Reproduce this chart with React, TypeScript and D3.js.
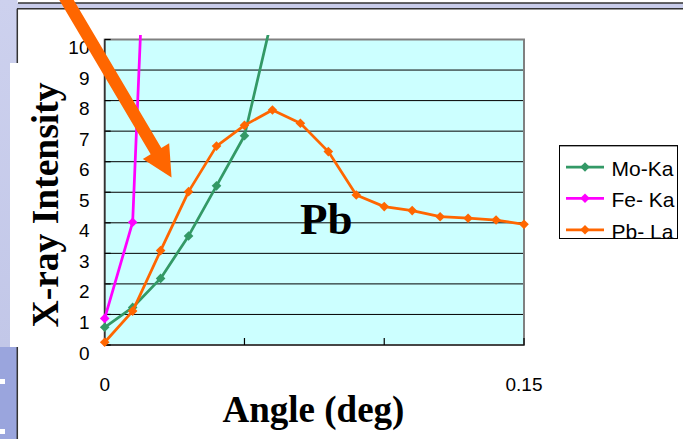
import React from "react";
import * as d3 from "d3";

// ---- data ----
const angles = [0, 0.01, 0.02, 0.03, 0.04, 0.05, 0.06, 0.07, 0.08, 0.09, 0.1, 0.11, 0.12, 0.13, 0.14, 0.15];
const moKa = [0.58, 1.23, 2.18, 3.57, 5.21, 6.85, 10.76];
const feKa = [0.87, 4.02, 26];
const pbLa = [0.09, 1.11, 3.09, 5.02, 6.51, 7.19, 7.69, 7.26, 6.33, 4.91, 4.53, 4.4, 4.2, 4.15, 4.09, 3.95];
const seriesNames = ["Mo-Ka", "Fe- Ka", "Pb- La"];
const seriesColors = ["#339966", "#FF00FF", "#FF6600"];
const yTicks = [0, 1, 2, 3, 4, 5, 6, 7, 8, 9, 10];
const xTicks = [0, 0.05, 0.1, 0.15];
const xTickLabels = ["0", "0.05", "0.1", "0.15"];

const W = 683;
const H = 439;
const plot = { left: 104.7, right: 524, top: 39.5, bottom: 345 };

const x = d3.scaleLinear().domain([0, 0.15]).range([plot.left, plot.right]);
const y = d3.scaleLinear().domain([0, 10]).range([plot.bottom, plot.top]);

const sans = "'Liberation Sans', Arial, sans-serif";
const serif = "'Liberation Serif', 'Times New Roman', serif";

function diamond(cx: number, cy: number, r: number) {
  return `M${cx},${cy - r}L${cx + r},${cy}L${cx},${cy + r}L${cx - r},${cy}Z`;
}

function arrowPath() {
  const S = [66.5, 0];
  const M = [156, 151.15];
  const dx = M[0] - S[0];
  const dy = M[1] - S[1];
  const len = Math.hypot(dx, dy);
  const u = [dx / len, dy / len];
  const n = [-u[1], u[0]];
  const sw = 6.2;
  const hw = 15.3;
  const hl = 30.5;
  const start = [S[0] - u[0] * 10, S[1] - u[1] * 10];
  const tip = [M[0] + u[0] * hl, M[1] + u[1] * hl];
  const pts = [
    [start[0] + n[0] * sw, start[1] + n[1] * sw],
    [M[0] + n[0] * sw, M[1] + n[1] * sw],
    [M[0] + n[0] * hw, M[1] + n[1] * hw],
    tip,
    [M[0] - n[0] * hw, M[1] - n[1] * hw],
    [M[0] - n[0] * sw, M[1] - n[1] * sw],
    [start[0] - n[0] * sw, start[1] - n[1] * sw],
  ];
  return "M" + pts.map((p) => p.join(",")).join("L") + "Z";
}

export default function App() {
  const line = d3
    .line<[number, number]>()
    .x((d) => x(d[0]))
    .y((d) => y(d[1]));
  const allSeries = [moKa, feKa, pbLa].map((vals) =>
    vals.map((v, i) => [angles[i], v] as [number, number])
  );

  const legendBox = { x: 559.5, y: 145.7, w: 118, h: 92.8 };
  const legendY = [167, 198.3, 229.8];

  return (
    <svg
      width={W}
      height={H}
      style={{ position: "absolute", left: 0, top: 0, display: "block" }}
    >
      <defs>
        <clipPath id="seriesClip">
          <rect x={0} y={35} width={W} height={H - 35} />
        </clipPath>
        <clipPath id="legendClip">
          <rect x={legendBox.x} y={legendBox.y} width={legendBox.w} height={legendBox.h} />
        </clipPath>
        <linearGradient id="strip" x1="0" y1="0" x2="0" y2="1">
          <stop offset="0" stopColor="#CDD1EE" />
          <stop offset="1" stopColor="#C2C7E8" />
        </linearGradient>
      </defs>
      <rect x={0} y={0} width={W} height={H} fill="#fff" />
      {/* slide background */}
      <rect x={0} y={0} width={17.5} height={347} fill="url(#strip)" />
      <rect x={0} y={347} width={17.5} height={H - 347} fill="#9AA5DD" />
      <rect x={0} y={379} width={5} height={5} fill="#fff" />
      <rect x={0} y={429} width={5} height={5} fill="#fff" />
      <rect x={17} y={3} width={W - 17} height={6} fill="#C8CCEA" />
      <line x1={18} x2={W} y1={3} y2={3} stroke="#333" strokeWidth={1.5} />
      <line x1={17} x2={W} y1={8.7} y2={8.7} stroke="#333" strokeWidth={1.5} />
      <line x1={17.3} x2={17.3} y1={8.7} y2={H} stroke="#333" strokeWidth={1.5} />
      {/* y label box */}
      <rect x={10} y={63} width={85} height={284} fill="#fff" />

      {/* plot area */}
      <rect
        x={plot.left}
        y={plot.top}
        width={plot.right - plot.left}
        height={plot.bottom - plot.top}
        fill="#CCFFFF"
      />
      {yTicks.slice(1, -1).map((t) => (
        <line key={t} x1={plot.left} x2={plot.right} y1={y(t)} y2={y(t)} stroke="#000" strokeWidth={1} />
      ))}
      <rect
        x={plot.left}
        y={plot.top}
        width={plot.right - plot.left}
        height={plot.bottom - plot.top}
        fill="none"
        stroke="#808080"
        strokeWidth={2}
      />
      <line x1={plot.left} x2={plot.left} y1={plot.top} y2={plot.bottom} stroke="#333" strokeWidth={1.5} />
      <line x1={plot.left} x2={plot.right} y1={plot.bottom} y2={plot.bottom} stroke="#333" strokeWidth={1.5} />
      {yTicks.map((t) => (
        <line key={t} x1={plot.left} x2={plot.left + 6} y1={y(t)} y2={y(t)} stroke="#000" strokeWidth={1.2} />
      ))}
      {xTicks.map((t) => (
        <line key={t} x1={x(t)} x2={x(t)} y1={plot.bottom} y2={plot.bottom - 7} stroke="#000" strokeWidth={1.2} />
      ))}

      {/* tick labels */}
      {yTicks.map((t) => (
        <text
          key={t}
          x={89.5}
          y={y(t) + 8}
          textAnchor="end"
          dominantBaseline="central"
          fontFamily={sans}
          fontSize={19}
          fill="#000"
        >
          {t}
        </text>
      ))}
      {xTicks.map((t, i) => (
        <text
          key={t}
          x={x(t)}
          y={384.5}
          textAnchor="middle"
          dominantBaseline="central"
          fontFamily={sans}
          fontSize={19}
          fill="#000"
        >
          {xTickLabels[i]}
        </text>
      ))}

      {/* series */}
      <g clipPath="url(#seriesClip)">
        {allSeries.map((pts, si) => (
          <g key={si}>
            <path d={line(pts) || ""} fill="none" stroke={seriesColors[si]} strokeWidth={2.75} strokeLinejoin="round" />
            {pts.map((p, i) => (
              <path key={i} d={diamond(x(p[0]), y(p[1]), 4.8)} fill={seriesColors[si]} />
            ))}
          </g>
        ))}
      </g>

      {/* Pb label */}
      <text x={300} y={234} fontFamily={serif} fontWeight="bold" fontSize={45} fill="#000">
        Pb
      </text>

      {/* legend */}
      <rect
        x={legendBox.x}
        y={legendBox.y}
        width={legendBox.w}
        height={legendBox.h}
        fill="#fff"
        stroke="#000"
        strokeWidth={1}
      />
      <g clipPath="url(#legendClip)">
        {seriesNames.map((name, i) => (
          <g key={name}>
            <line x1={566} x2={604} y1={legendY[i]} y2={legendY[i]} stroke={seriesColors[i]} strokeWidth={2.75} />
            <path d={diamond(585, legendY[i], 4.8)} fill={seriesColors[i]} />
            <text
              x={611.5}
              y={legendY[i] + 1.2}
              dominantBaseline="central"
              fontFamily={sans}
              fontSize={21}
              fill="#000"
            >
              {name}
            </text>
          </g>
        ))}
      </g>
      <rect
        x={legendBox.x}
        y={legendBox.y}
        width={legendBox.w}
        height={legendBox.h}
        fill="none"
        stroke="#000"
        strokeWidth={1}
      />

      {/* axis titles */}
      <rect x={205} y={376.5} width={220} height={H - 376.5} fill="#fff" />
      <text
        x={313.5}
        y={421.7}
        textAnchor="middle"
        fontFamily={serif}
        fontWeight="bold"
        fontSize={37}
        fill="#000"
      >
        Angle (deg)
      </text>
      <text
        transform="translate(57.5,205) rotate(-90)"
        textAnchor="middle"
        fontFamily={serif}
        fontWeight="bold"
        fontSize={37.5}
        fill="#000"
      >
        X-ray Intensity
      </text>

      {/* annotation arrow */}
      <path d={arrowPath()} fill="#FF6600" />
    </svg>
  );
}
